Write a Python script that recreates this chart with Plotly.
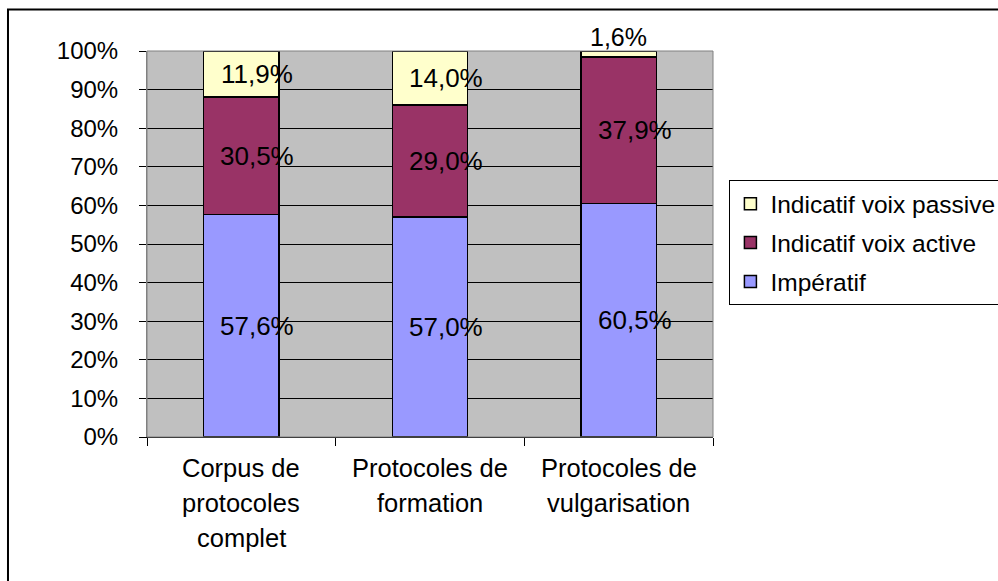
import plotly.graph_objects as go

categories = ["Corpus de protocoles complet", "Protocoles de formation", "Protocoles de vulgarisation"]
category_lines = [["Corpus de", "protocoles", "complet"], ["Protocoles de", "formation"], ["Protocoles de", "vulgarisation"]]
imperatif = [57.6, 57.0, 60.5]
voix_active = [30.5, 29.0, 37.9]
voix_passive = [11.9, 14.0, 1.6]
series_names = ["Impératif", "Indicatif voix active", "Indicatif voix passive"]
series_colors = ["#9999FF", "#993366", "#FFFFCC"]
y_ticks = [0, 10, 20, 30, 40, 50, 60, 70, 80, 90, 100]
y_ticklabels = [f"{v}%" for v in y_ticks]

FONT = "Liberation Sans, Arial, sans-serif"
series = [imperatif, voix_active, voix_passive]

fig = go.Figure()
for k, (name, vals, col) in enumerate(zip(series_names, series, series_colors)):
    fig.add_trace(go.Bar(
        x=categories, y=vals, name=name, legendgroup=name, legendrank=1000 - k,
        marker=dict(color=col, line=dict(color="black", width=1.5)),
        width=0.4,
    ))

annotations = []
for i, cat in enumerate(categories):
    base = 0
    for vals in series:
        v = vals[i]
        txt = f"{v:.1f}%".replace(".", ",")
        if v < 5:
            annotations.append(dict(x=cat, y=base + v, xref="x", yref="y", text=txt,
                                    showarrow=False, yanchor="bottom", yshift=-2,
                                    font=dict(size=25, color="black", family=FONT)))
        else:
            annotations.append(dict(x=cat, y=base + v / 2, xref="x", yref="y", text=txt,
                                    showarrow=False, xshift=16, yanchor="middle",
                                    font=dict(size=26, color="black", family=FONT)))
        base += v
    for j, line in enumerate(category_lines[i]):
        annotations.append(dict(x=cat, y=0, xref="x", yref="paper", text=line,
                                showarrow=False, yanchor="middle", yshift=-31 - 35 * j,
                                font=dict(size=25.5, color="black", family=FONT)))

fig.update_layout(
    width=1050, height=581, autosize=False,
    margin=dict(l=147, r=337, t=51, b=144),
    barmode="stack",
    paper_bgcolor="white",
    plot_bgcolor="#C0C0C0",
    font=dict(family=FONT, size=24, color="black"),
    annotations=annotations,
    legend=dict(
        x=1.029, y=0.665, xanchor="left", yanchor="top",
        traceorder="grouped", tracegroupgap=4,
        bordercolor="black", borderwidth=1, bgcolor="white",
        font=dict(size=24.5, family=FONT, color="black"),
    ),
    xaxis=dict(
        showticklabels=False, ticks="outside", tickson="boundaries",
        ticklen=8, tickcolor="black", showline=True, linecolor="black",
        showgrid=False,
    ),
    yaxis=dict(
        range=[0, 100], tickvals=y_ticks, ticktext=y_ticklabels,
        ticks="outside", ticklen=7, tickcolor="black", ticklabelstandoff=16,
        showgrid=True, gridcolor="black", gridwidth=1,
        showline=True, linecolor="#808080", zeroline=False,
        tickfont=dict(size=24, family=FONT, color="black"),
    ),
    shapes=[
        dict(type="rect", xref="paper", yref="paper", x0=0, x1=1, y0=0, y1=1,
             line=dict(color="#808080", width=1), layer="above"),
        dict(type="rect", xref="paper", yref="paper", x0=-0.2456, x1=1.53, y0=-0.5, y1=1.1075,
             line=dict(color="black", width=2)),
    ],
    showlegend=True,
)

fig.write_html("out.html", config={"responsive": False, "displayModeBar": False},
               post_script="document.body.style.margin='0';document.body.style.overflow='hidden';")
